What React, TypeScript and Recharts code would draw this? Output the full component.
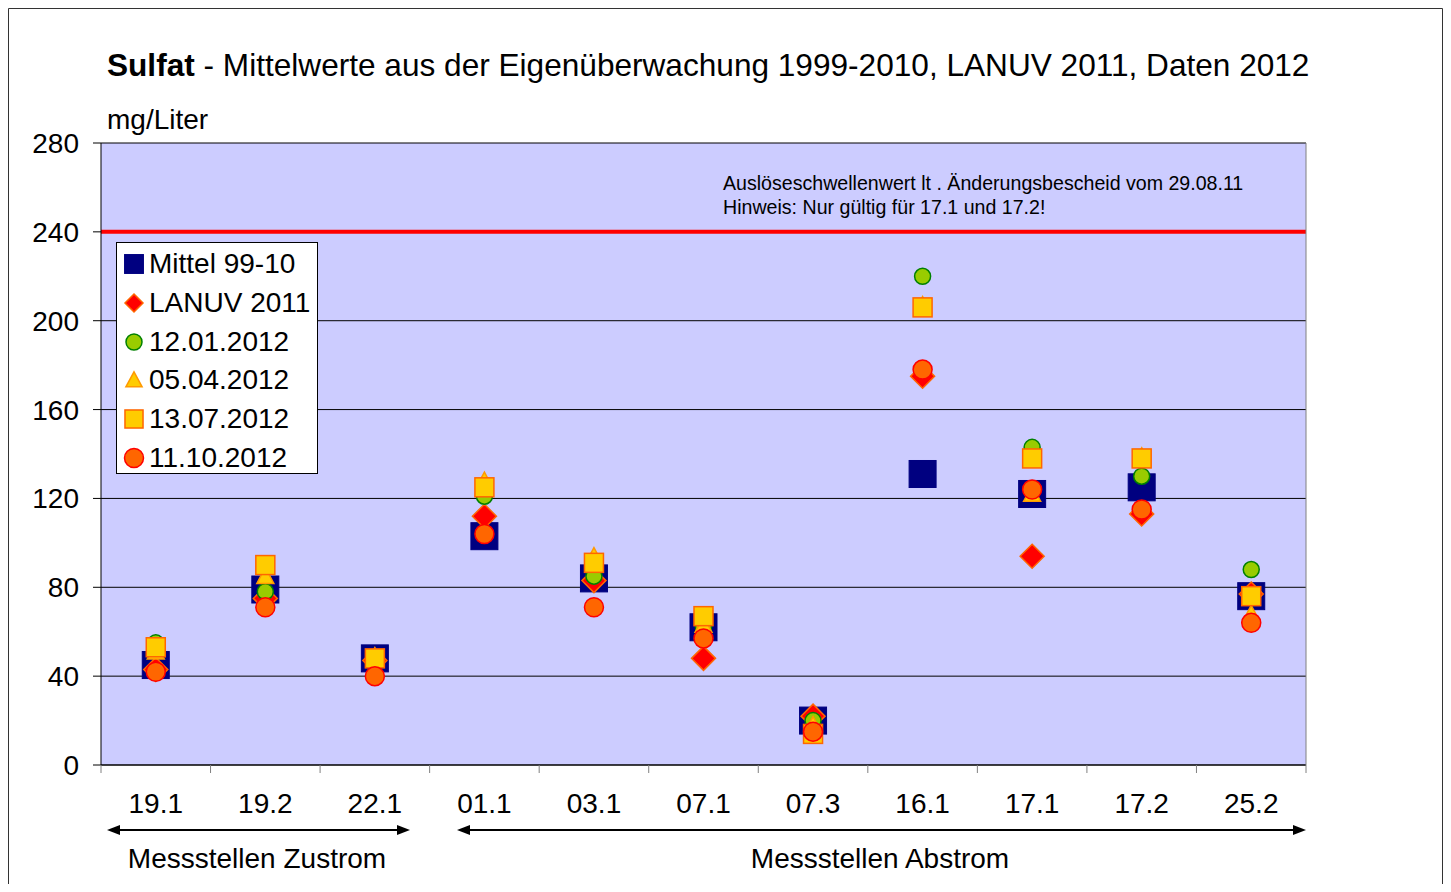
import React from "react";
import {
  ComposedChart,
  Line,
  XAxis,
  YAxis,
  CartesianGrid,
  ReferenceLine,
} from "recharts";

const categories = ["19.1", "19.2", "22.1", "01.1", "03.1", "07.1", "07.3", "16.1", "17.1", "17.2", "25.2"];
const mittel = [45, 79, 48, 103, 84, 62, 20, 131, 122, 125, 76];
const lanuv = [43, 75, 47, 112, 83, 48, 22, 175, 94, 113, 77];
const jan12 = [55, 78, 48, 121, 85, 62, 20, 220, 143, 130, 88];
const apr12 = [51, 85, 49, 128, 94, 63, 18, 207, 122, 139, 68];
const jul12 = [53, 90, 48, 125, 91, 67, 14, 206, 138, 138, 76];
const oct12 = [42, 71, 40, 104, 71, 57, 15, 178, 124, 115, 64];
const yTicks = [0, 40, 80, 120, 160, 200, 240, 280];
const threshold = 240;

const FONT = "'Liberation Sans', Arial, sans-serif";

const data = categories.map((c, i) => ({
  site: c,
  mittel: mittel[i],
  lanuv: lanuv[i],
  jan12: jan12[i],
  apr12: apr12[i],
  jul12: jul12[i],
  oct12: oct12[i],
}));

// layout (svg coords)
const W = 1435;
const H = 876;
const PLOT_W = 1205;
const PLOT_BOTTOM = 757;
const BAND = PLOT_W / categories.length;

type Shape = "bigSquare" | "diamond" | "circleG" | "triangle" | "square" | "circleO";

function marker(shape: Shape, cx: number, cy: number, scale = 1, key?: any) {
  switch (shape) {
    case "bigSquare": {
      const s = 13.5 * scale;
      return <rect key={key} x={cx - s} y={cy - s} width={2 * s} height={2 * s} fill="#000080" stroke="#000080" strokeWidth={1} />;
    }
    case "diamond": {
      const s = 12 * scale;
      return (
        <polygon key={key} points={`${cx},${cy - s} ${cx + s},${cy} ${cx},${cy + s} ${cx - s},${cy}`} fill="#FF0000" stroke="#FF6600" strokeWidth={1.5} />
      );
    }
    case "circleG":
      return <circle key={key} cx={cx} cy={cy} r={8 * scale} fill="#99CC00" stroke="#008000" strokeWidth={1.5} />;
    case "triangle": {
      const s = 8.5 * scale;
      return (
        <polygon key={key} points={`${cx},${cy - s} ${cx + s},${cy + s * 0.85} ${cx - s},${cy + s * 0.85}`} fill="#FFCC00" stroke="#FF9900" strokeWidth={1.5} />
      );
    }
    case "square": {
      const s = 9.5 * scale;
      return <rect key={key} x={cx - s} y={cy - s} width={2 * s} height={2 * s} fill="#FFCC00" stroke="#FF6600" strokeWidth={1.5} />;
    }
    case "circleO":
      return <circle key={key} cx={cx} cy={cy} r={9.5 * scale} fill="#FF6600" stroke="#FF0000" strokeWidth={1.5} />;
  }
}

const series: { key: string; name: string; shape: Shape }[] = [
  { key: "mittel", name: "Mittel 99-10", shape: "bigSquare" },
  { key: "lanuv", name: "LANUV 2011", shape: "diamond" },
  { key: "jan12", name: "12.01.2012", shape: "circleG" },
  { key: "apr12", name: "05.04.2012", shape: "triangle" },
  { key: "jul12", name: "13.07.2012", shape: "square" },
  { key: "oct12", name: "11.10.2012", shape: "circleO" },
];

const legendScale: Record<Shape, number> = {
  bigSquare: 0.7,
  diamond: 0.75,
  circleG: 1,
  triangle: 0.95,
  square: 0.95,
  circleO: 1,
};

function XTick(props: any) {
  const { x, payload, index } = props;
  const left = x - BAND / 2;
  return (
    <g>
      <line x1={left} y1={PLOT_BOTTOM} x2={left} y2={PLOT_BOTTOM + 8} stroke="#808080" />
      {index === categories.length - 1 && (
        <line x1={x + BAND / 2} y1={PLOT_BOTTOM} x2={x + BAND / 2} y2={PLOT_BOTTOM + 8} stroke="#808080" />
      )}
      <text x={x} y={PLOT_BOTTOM + 48} textAnchor="middle" fontSize={28} fontFamily={FONT} fill="#000">
        {payload.value}
      </text>
    </g>
  );
}

function Arrow({ x1, x2, y }: { x1: number; x2: number; y: number }) {
  return (
    <g>
      <line x1={x1 + 8} y1={y} x2={x2 - 8} y2={y} stroke="#000" strokeWidth={2} />
      <polygon points={`${x1},${y} ${x1 + 13},${y - 5} ${x1 + 13},${y + 5}`} fill="#000" />
      <polygon points={`${x2},${y} ${x2 - 13},${y - 5} ${x2 - 13},${y + 5}`} fill="#000" />
    </g>
  );
}

export default function App() {
  return (
    <div style={{ position: "relative", width: W, height: H, fontFamily: FONT }}>
      <ComposedChart
        width={W}
        height={H}
        data={data}
        margin={{ top: 135, right: 136, left: 0, bottom: 59 }}
      >
        <CartesianGrid horizontal vertical={false} stroke="#000" strokeWidth={1} fill="#CCCCFF" />
        <XAxis
          dataKey="site"
          type="category"
          scale="band"
          height={60}
          tickLine={false}
          axisLine={{ stroke: "#000", strokeWidth: 1 }}
          interval={0}
          tick={<XTick />}
        />
        <YAxis
          width={93}
          domain={[0, 280]}
          ticks={yTicks}
          interval={0}
          tickSize={8}
          tickMargin={14}
          axisLine={{ stroke: "#000" }}
          tickLine={{ stroke: "#000" }}
          tick={{ fontSize: 28, fill: "#000", fontFamily: FONT }}
        />
        <YAxis
          yAxisId="r"
          orientation="right"
          width={1}
          domain={[0, 280]}
          tick={false}
          tickLine={false}
          axisLine={{ stroke: "#808080" }}
        />
        <ReferenceLine y={threshold} stroke="#FF0000" strokeWidth={4} />
        {series.map((s) => (
          <Line
            key={s.key}
            dataKey={s.key}
            name={s.name}
            stroke="none"
            isAnimationActive={false}
            activeDot={false}
            dot={(p: any) => marker(s.shape, p.cx, p.cy, 1, `${s.key}-${p.index}`)}
          />
        ))}
      </ComposedChart>

      {/* frame + arrows */}
      <svg width={W} height={H} style={{ position: "absolute", left: 0, top: 0, pointerEvents: "none" }}>
        <polyline points={`0.5,${H} 0.5,0.5 ${W - 0.5},0.5 ${W - 0.5},${H}`} fill="none" stroke="#333" strokeWidth={1} />
        <Arrow x1={99} x2={402} y={822} />
        <Arrow x1={449} x2={1298} y={822} />
      </svg>

      <div style={{ position: "absolute", left: 99, top: 38, fontSize: 31.6, lineHeight: "38px", whiteSpace: "nowrap" }}>
        <b>Sulfat</b> - Mittelwerte aus der Eigenüberwachung 1999-2010, LANUV 2011, Daten 2012
      </div>
      <div style={{ position: "absolute", left: 99, top: 96, fontSize: 28, lineHeight: "32px" }}>mg/Liter</div>
      <div style={{ position: "absolute", left: 715, top: 163, fontSize: 19.6, lineHeight: "24px", whiteSpace: "nowrap" }}>
        Auslöseschwellenwert lt . Änderungsbescheid vom 29.08.11
        <br />
        Hinweis: Nur gültig für 17.1 und 17.2!
      </div>
      <div style={{ position: "absolute", left: 249 - 150, width: 300, textAlign: "center", top: 835, fontSize: 28, lineHeight: "32px" }}>
        Messstellen Zustrom
      </div>
      <div style={{ position: "absolute", left: 872 - 200, width: 400, textAlign: "center", top: 835, fontSize: 28, lineHeight: "32px" }}>
        Messstellen Abstrom
      </div>

      {/* legend */}
      <div
        style={{
          position: "absolute",
          left: 108,
          top: 234,
          width: 200,
          height: 230,
          background: "#fff",
          border: "1px solid #000",
        }}
      >
        {series.map((s, i) => (
          <div key={s.key} style={{ position: "absolute", left: 0, top: 2 + i * 38.8, height: 38, display: "flex", alignItems: "center" }}>
            <svg width={32} height={38}>
              {marker(s.shape, 17, 19, legendScale[s.shape])}
            </svg>
            <span style={{ fontSize: 28, whiteSpace: "nowrap" }}>{s.name}</span>
          </div>
        ))}
      </div>
    </div>
  );
}
